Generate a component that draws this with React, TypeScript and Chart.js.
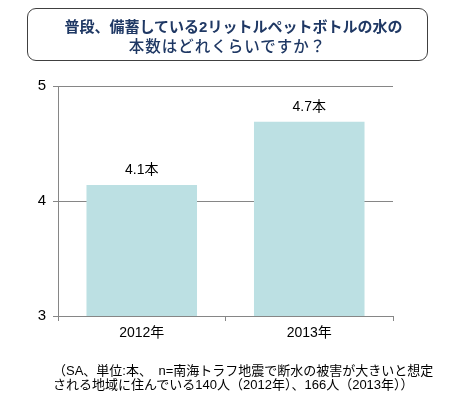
import React, { useEffect, useRef } from "react";
import { Chart, registerables } from "chart.js";

Chart.register(...registerables);

const categories = ["2012年", "2013年"];
const values = [4.14, 4.69];
const valueLabels = ["4.1本", "4.7本"];
const yTicks = [3, 4, 5];
const titleLines = ["普段、備蓄している2リットルペットボトルの水の", "本数はどれくらいですか？"];
const noteLines = [
  "（SA、単位:本、　n=南海トラフ地震で断水の被害が大きいと想定",
  "される地域に住んでいる140人（2012年）、166人（2013年））",
];

const FONT = '"Liberation Sans", Arial, "Noto Sans CJK JP", sans-serif';

export default function App() {
  const ref = useRef<HTMLCanvasElement | null>(null);

  useEffect(() => {
    document.body.style.margin = "0";
    const labelPlugin = {
      id: "valueLabels",
      afterDatasetsDraw(chart: any) {
        const ctx = chart.ctx;
        const meta = chart.getDatasetMeta(0);
        ctx.save();
        ctx.font = `14px ${FONT}`;
        ctx.fillStyle = "#000";
        ctx.textAlign = "center";
        ctx.textBaseline = "bottom";
        meta.data.forEach((bar: any, i: number) => {
          ctx.fillText(valueLabels[i], bar.x, bar.y - 8);
        });
        ctx.restore();
      },
    };
    const chart = new Chart(ref.current!, {
      type: "bar",
      data: {
        labels: categories,
        datasets: [
          {
            data: values,
            backgroundColor: "#BCE0E3",
            borderWidth: 0,
            categoryPercentage: 0.66,
            barPercentage: 1,
          },
        ],
      },
      options: {
        animation: false,
        responsive: false,
        events: [],
        layout: { padding: { left: 0, right: 58, top: 86, bottom: 0 } },
        plugins: { legend: { display: false }, tooltip: { enabled: false } },
        scales: {
          x: {
            offset: true,
            grid: {
              display: true,
              offset: true,
              drawOnChartArea: false,
              drawTicks: true,
              tickLength: 5,
              color: "#868686",
            },
            border: { color: "#868686", width: 1 },
            ticks: { color: "#000", font: { size: 14, family: FONT }, padding: 4 },
            afterFit: (s: any) => {
              s.height = 82;
            },
          },
          y: {
            min: yTicks[0],
            max: yTicks[yTicks.length - 1],
            afterBuildTicks: (s: any) => {
              s.ticks = yTicks.map((v) => ({ value: v }));
            },
            grid: { color: "#868686", tickLength: 5, drawTicks: true },
            border: { color: "#868686", width: 1 },
            ticks: { color: "#000", font: { size: 15, family: FONT }, padding: 7 },
            afterFit: (s: any) => {
              s.width = 58;
            },
          },
        },
      },
      plugins: [labelPlugin],
    });
    return () => chart.destroy();
  }, []);

  return (
    <div style={{ position: "absolute", left: 0, top: 0, width: 451, height: 398, background: "#fff", overflow: "hidden" }}>
      <canvas ref={ref} width={451} height={398} style={{ position: "absolute", left: 0, top: 0 }} />
      <div
        style={{
          position: "absolute",
          left: 27,
          top: 8,
          width: 401,
          height: 53,
          border: "1px solid #404040",
          borderRadius: 9,
          boxSizing: "border-box",
          fontFamily: FONT,
          fontWeight: "bold",
          color: "#1F3864",
          textAlign: "center",
          lineHeight: "20px",
          paddingTop: 8,
          paddingLeft: 12,
        }}
      >
        <div style={{ fontSize: 15 }}>{titleLines[0]}</div>
        <div style={{ fontSize: 15.5, letterSpacing: 1, fontWeight: 500, paddingRight: 12 }}>{titleLines[1]}</div>
      </div>
      <div
        style={{
          position: "absolute",
          left: 53,
          top: 364,
          fontFamily: FONT,
          fontSize: 13,
          color: "#000",
          lineHeight: "14px",
          whiteSpace: "nowrap",
        }}
      >
        {noteLines.map((t, i) => (
          <div key={i}>{t}</div>
        ))}
      </div>
    </div>
  );
}
